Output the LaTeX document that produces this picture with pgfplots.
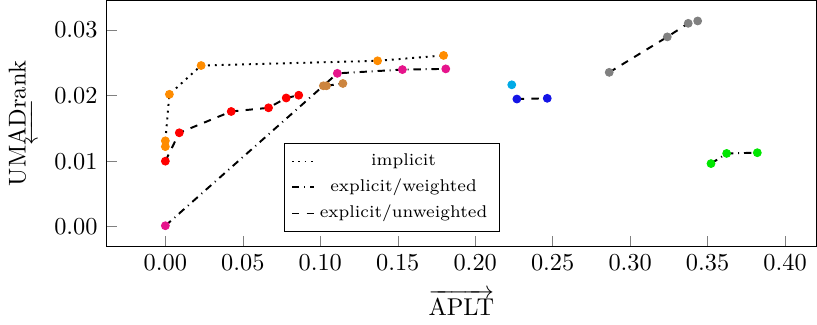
\documentclass[border=0pt]{standalone}
\usepackage{pgfplots}
\usepackage{amsmath}
\pgfplotsset{compat=1.18}
\definecolor{cOrange}{RGB}{255,140,0}
\definecolor{cRed}{RGB}{255,0,0}
\definecolor{cPink}{RGB}{230,20,140}
\definecolor{cBrown}{RGB}{205,133,63}
\definecolor{cLBlue}{RGB}{0,170,230}
\definecolor{cBlue}{RGB}{20,20,230}
\definecolor{cGray}{RGB}{128,128,128}
\definecolor{cGreen}{RGB}{0,230,0}
\begin{document}
\begin{tikzpicture}
\begin{axis}[
  scale only axis,
  width=292pt, height=101pt,
  tick pos=left,
  scaled y ticks=false, scaled x ticks=false,
  xtick={0,0.05,0.1,0.15,0.2,0.25,0.3,0.35,0.4},
  ytick={0,0.01,0.02,0.03},
  xticklabel style={/pgf/number format/.cd,fixed,fixed zerofill,precision=2},
  yticklabel style={/pgf/number format/.cd,fixed,fixed zerofill,precision=2},
  xlabel={$\overrightarrow{\text{APLT}}$},
  ylabel={UM$\underleftarrow{\text{ADr}}$ank},
  xlabel style={yshift=-1pt},
  legend cell align=center,
  legend image code/.code={\draw[#1] (0cm,0cm) -- (0.32cm,0cm);},
  legend style={at={(axis cs:0.0763,0.0127)}, anchor=north west, draw=black, font=\scriptsize, row sep=0pt},
  mark size=1.6pt,
]
% legend images
\addlegendimage{black, dotted, semithick}
\addlegendentry{implicit}
\addlegendimage{black, dashdotted, semithick}
\addlegendentry{explicit/weighted}
\addlegendimage{black, dashed, semithick}
\addlegendentry{explicit/unweighted}

% markers
\addplot[only marks, mark=*, color=cOrange, forget plot] coordinates {
 (0,0.01222) (0,0.0131) (0.0026,0.0202) (0.0231,0.02459) (0.137,0.02531) (0.1796,0.02613)};
\addplot[only marks, mark=*, color=cRed, forget plot] coordinates {
 (0,0.0100) (0.0090,0.01433) (0.0425,0.01758) (0.0666,0.01814) (0.078,0.01964) (0.0861,0.02006)};
\addplot[only marks, mark=*, color=cPink, forget plot] coordinates {
 (0,0.00015) (0.111,0.0234) (0.153,0.02397) (0.181,0.02408)};
\addplot[only marks, mark=*, color=cBrown, forget plot] coordinates {
 (0.102,0.0215) (0.104,0.0215) (0.1146,0.02185)};
\addplot[only marks, mark=*, color=cLBlue, forget plot] coordinates {
 (0.2236,0.02165)};
\addplot[only marks, mark=*, color=cBlue, forget plot] coordinates {
 (0.2269,0.01948) (0.2465,0.01959)};
\addplot[only marks, mark=*, color=cGray, forget plot] coordinates {
 (0.2865,0.02355) (0.324,0.02896) (0.3375,0.03103) (0.3436,0.03139)};
\addplot[only marks, mark=*, color=cGreen, forget plot] coordinates {
 (0.3522,0.00963) (0.3623,0.01118) (0.3821,0.01129)};

% lines
\addplot[black, dotted, thick, no marks, forget plot] coordinates {
 (0,0.01222) (0,0.0131) (0.0026,0.0202) (0.0231,0.02459) (0.137,0.02531) (0.1796,0.02613)};
\addplot[black, dashed, thick, no marks, forget plot] coordinates {
 (0,0.0100) (0.0090,0.01433) (0.0425,0.01758) (0.0666,0.01814) (0.078,0.01964) (0.0861,0.02006)};
\addplot[black, dashdotted, thick, no marks, forget plot] coordinates {
 (0,0.00015) (0.102,0.0215) (0.111,0.0234) (0.153,0.02397) (0.181,0.02408)};
\addplot[black, dashdotted, thick, no marks, forget plot] coordinates {
 (0.104,0.0215) (0.1146,0.02185)};
\addplot[black, dashed, thick, no marks, forget plot] coordinates {
 (0.2269,0.01948) (0.2465,0.01959)};
\addplot[black, dashed, thick, no marks, forget plot] coordinates {
 (0.2865,0.02355) (0.324,0.02896) (0.3375,0.03103) (0.3436,0.03139)};
\addplot[black, dashdotted, thick, no marks, forget plot] coordinates {
 (0.3522,0.00963) (0.3623,0.01118) (0.3821,0.01129)};
\end{axis}
\end{tikzpicture}
\end{document}
